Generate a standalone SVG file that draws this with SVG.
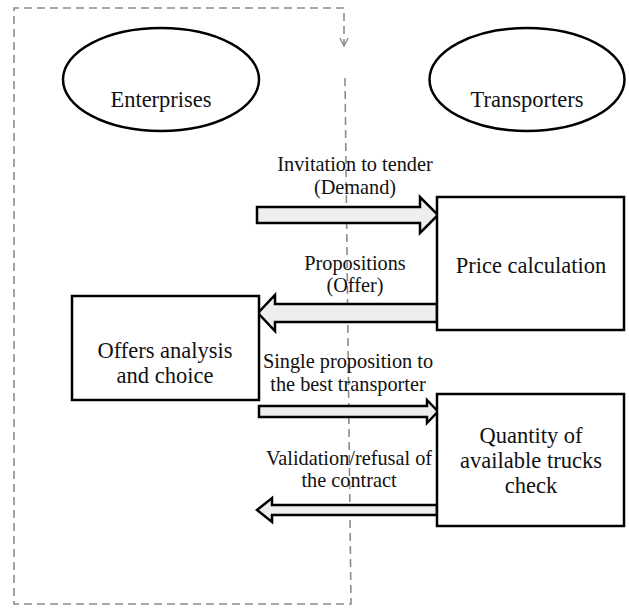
<svg xmlns="http://www.w3.org/2000/svg" width="629" height="608" viewBox="0 0 629 608">
  <defs>
    <marker id="vhead" viewBox="0 0 10 10" refX="9" refY="5" markerWidth="10" markerHeight="10" markerUnits="userSpaceOnUse" orient="auto">
      <path d="M1,1 L9,5 L1,9" fill="none" stroke="#8c8c8c" stroke-width="1.4"/>
    </marker>
    <style>
      .dash { fill: none; stroke: #8c8c8c; stroke-width: 1.6; stroke-dasharray: 8 5; }
      .node { fill: #ffffff; stroke: #000000; stroke-width: 2.5; }
      .arrow { fill: #eeeeee; stroke: #000000; stroke-width: 2.5; stroke-linejoin: miter; }
      .nt { font-family: "Liberation Serif", "Times New Roman", serif; font-size: 22.5px; fill: #111111; text-anchor: middle; }
      .lt { font-family: "Liberation Serif", "Times New Roman", serif; font-size: 20.3px; fill: #111111; text-anchor: middle; }
    </style>
  </defs>
  <rect width="629" height="608" fill="#ffffff"/>

  <g id="boundary">
    <path class="dash" d="M345,78 L351,604 L14,604 L14,8 L344,8 L344,46" marker-end="url(#vhead)"/>
  </g>

  <g id="connectors">
    <g id="invitation">
      <polygon class="arrow" points="257,207 420,207 420,197 438,215 420,233 420,223 257,223"/>
      <text class="lt" x="355" y="171">Invitation to tender</text>
      <text class="lt" x="355" y="194">(Demand)</text>
    </g>
    <g id="propositions">
      <polygon class="arrow" points="437,304 275,304 275,295 258,313 275,331 275,322 437,322"/>
      <text class="lt" x="355" y="270">Propositions</text>
      <text class="lt" x="355" y="292">(Offer)</text>
    </g>
    <g id="single">
      <polygon class="arrow" points="259,406 427,406 427,400 438,411.5 427,423 427,417 259,417"/>
      <text class="lt" x="348" y="368">Single proposition to</text>
      <text class="lt" x="348" y="391">the best transporter</text>
    </g>
    <g id="validation">
      <polygon class="arrow" points="437,505 272,505 272,498 257,510 272,522 272,515 437,515"/>
      <text class="lt" x="349" y="465">Validation/refusal of</text>
      <text class="lt" x="349" y="487">the contract</text>
    </g>
  </g>

  <g id="enterprises">
    <ellipse class="node" cx="161" cy="79.5" rx="98" ry="51.5"/>
    <text class="nt" x="161" y="107">Enterprises</text>
  </g>
  <g id="transporters">
    <ellipse class="node" cx="527" cy="79.5" rx="97.5" ry="51.5"/>
    <text class="nt" x="527" y="107">Transporters</text>
  </g>
  <g id="price-calculation">
    <rect class="node" x="437" y="197" width="187" height="133"/>
    <text class="nt" x="531" y="272.5">Price calculation</text>
  </g>
  <g id="offers-analysis">
    <rect class="node" x="72" y="296" width="187" height="104"/>
    <text class="nt" x="165" y="358">Offers analysis</text>
    <text class="nt" x="165" y="382.5">and choice</text>
  </g>
  <g id="quantity-check">
    <rect class="node" x="437" y="394" width="187" height="132"/>
    <text class="nt" x="531" y="443">Quantity of</text>
    <text class="nt" x="531" y="468">available trucks</text>
    <text class="nt" x="531" y="493">check</text>
  </g>
</svg>
